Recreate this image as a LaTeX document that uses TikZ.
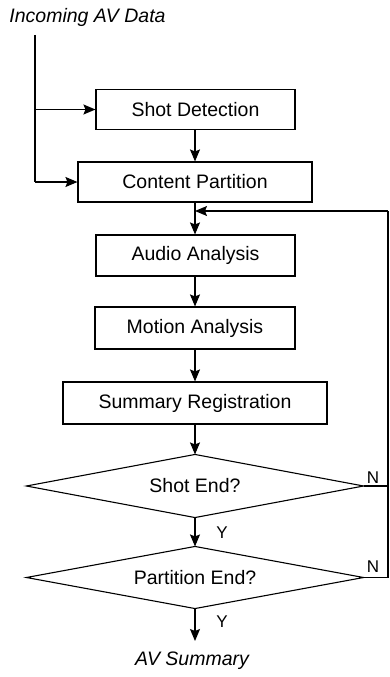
\documentclass[tikz,border=0pt]{standalone}
\usepackage{fontspec}
\setmainfont{Liberation Sans}
\usetikzlibrary{arrows.meta}
\begin{document}
\begin{tikzpicture}[x=1pt,y=-1pt,
  font=\fontsize{19.5}{22}\selectfont,
  line width=1.1pt,
  proc/.style={draw,rectangle,inner sep=0pt,minimum height=40pt},
  dec/.style={rectangle,inner sep=0pt,minimum width=336pt,minimum height=62pt},
  flow/.style={-{Stealth[length=12pt,width=10pt,inset=2pt]}},
  lbl/.style={inner sep=0pt,font=\fontsize{17}{20}\selectfont}]
\useasboundingbox (0,0) rectangle (390,677);
\node[inner sep=0pt,font=\fontsize{19.5}{22}\selectfont\itshape] (inc) at (87.5,17) {Incoming AV Data};
\node[proc,minimum width=199pt] (sd) at (195.5,109.5) {Shot Detection};
\node[proc,minimum width=234pt] (cp) at (195,182) {Content Partition};
\node[proc,minimum width=199pt,minimum height=41pt] (aa) at (195.5,255.5) {Audio Analysis};
\node[proc,minimum width=200pt,minimum height=42pt] (ma) at (195,328) {Motion Analysis};
\node[proc,minimum width=264pt,minimum height=42pt] (sr) at (195,403) {Summary Registration};
\node[dec] (se) at (195,486) {Shot End?};
\node[dec,minimum height=61pt] (pe) at (195,577.5) {Partition End?};
\draw (se.north) -- (se.east) -- (se.south) -- (se.west) -- cycle;
\draw (pe.north) -- (pe.east) -- (pe.south) -- (pe.west) -- cycle;
\node[inner sep=0pt,font=\fontsize{19.5}{22}\selectfont\itshape] (avs) at (192,661) {AV Summary};
\node[lbl] (y1) at (222,533) {Y};
\node[lbl] (y2) at (222,622) {Y};
\node[lbl] (n1) at (373,478) {N};
\node[lbl] (n2) at (373,567) {N};
\coordinate (top) at (35,35);
\coordinate (j1) at (35,109.5);
\coordinate (j2) at (35,182);
\coordinate (fb) at (388,211);
\coordinate (fbin) at (195,211);
\coordinate (out) at (195,641);
\draw (top) -- (j2);
\draw[flow] (j1) -- (sd.west);
\draw[flow] (j2) -- (cp.west);
\draw[flow] (sd.south -| fbin) -- (cp.north -| fbin);
\draw[flow] (cp.south -| fbin) -- (aa.north -| fbin);
\draw[flow] (fb) -- (fbin);
\draw[flow] (aa.south -| fbin) -- (ma.north -| fbin);
\draw[flow] (ma.south -| fbin) -- (sr.north -| fbin);
\draw[flow] (sr.south -| fbin) -- (se.north);
\draw[flow] (se.south) -- (pe.north);
\draw[flow] (pe.south) -- (out);
\draw (se.east) -- (se.east -| fb);
\draw (pe.east) -- (pe.east -| fb) -- (fb);
\end{tikzpicture}
\end{document}
